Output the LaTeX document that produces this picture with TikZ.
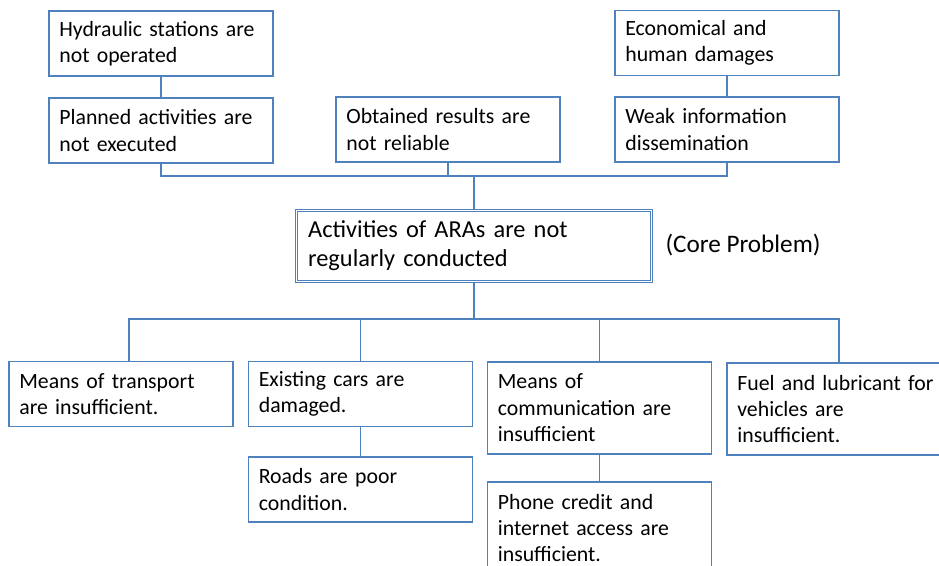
\documentclass[tikz,border=0pt]{standalone}
\usepackage{fontspec}
\setmainfont{Carlito}
\usepackage{xcolor}
\usepackage{tikz}
\usetikzlibrary{positioning,calc}
\definecolor{lnblue}{HTML}{4F81BD}

\begin{document}
\begin{tikzpicture}[
  box/.style={rectangle,draw=lnblue,line width=1.1pt,minimum width=6.72cm,minimum height=1.95cm,
    text width=6.1cm,inner sep=0pt,align=left,font=\fontsize{18.6}{22.6}\selectfont},
  tall/.style={box,minimum height=2.76cm},
  corebox/.style={rectangle,draw=lnblue,line width=0.7pt,double,double distance=1.6pt,
    minimum width=10.65cm,minimum height=2.13cm,text width=9.95cm,inner sep=0pt,align=left,
    font=\fontsize{20.8}{24.5}\selectfont},
  ln/.style={draw=lnblue,line width=1.1pt}]
\useasboundingbox (0,0) rectangle (28.17,-16.98);
\node[box] (hyd) at (4.83,-1.305) {Hydraulic stations are\\not operated};
\node[box] (plan) at (4.83,-3.915) {Planned activities are\\not executed};
\node[box] (obt) at (13.44,-3.885) {Obtained results are\\not reliable};
\node[box] (eco) at (21.81,-1.29) {Economical and\\human damages};
\node[box] (weak) at (21.81,-3.885) {Weak information\\dissemination};
\node[corebox] (core) at (14.22,-7.38) {Activities of ARAs are not\\regularly conducted};
\node[font=\fontsize{21.5}{25}\selectfont] (cp) at (22.29,-7.35) {(Core Problem)};
\node[box] (tr) at (3.63,-11.82) {Means of transport\\are insufficient.};
\node[box] (cars) at (10.815,-11.82) {Existing cars are\\damaged.};
\node[box] (road) at (10.815,-14.685) {Roads are poor\\condition.};
\node[tall] (comm) at (17.985,-12.24) {Means of\\communication are\\insufficient};
\node[tall] (fuel) at (25.17,-12.27) {Fuel and lubricant for\\vehicles are\\insufficient.};
\node[tall] (phone) at (17.985,-15.84) {Phone credit and\\internet access are\\insufficient.};
\coordinate (bt) at (14.22,-5.28);
\coordinate (bb) at (14.22,-9.57);
\coordinate (td) at (3.87,-9.57);
\draw[ln] (hyd) -- (plan); \draw[ln] (eco) -- (weak);
\draw[ln] (plan) |- (bt) -| (weak);
\draw[ln] (obt) -- (obt |- bt); \draw[ln] (bt) -- (core);
\draw[ln] (core) -- (bb);
\draw[ln] (td |- tr.north) -- (td) -| (fuel);
\draw[ln] (cars) -- (cars |- bb); \draw[ln] (comm) -- (comm |- bb);
\draw[ln] (cars) -- (road); \draw[ln] (comm) -- (phone);
\end{tikzpicture}
\end{document}
